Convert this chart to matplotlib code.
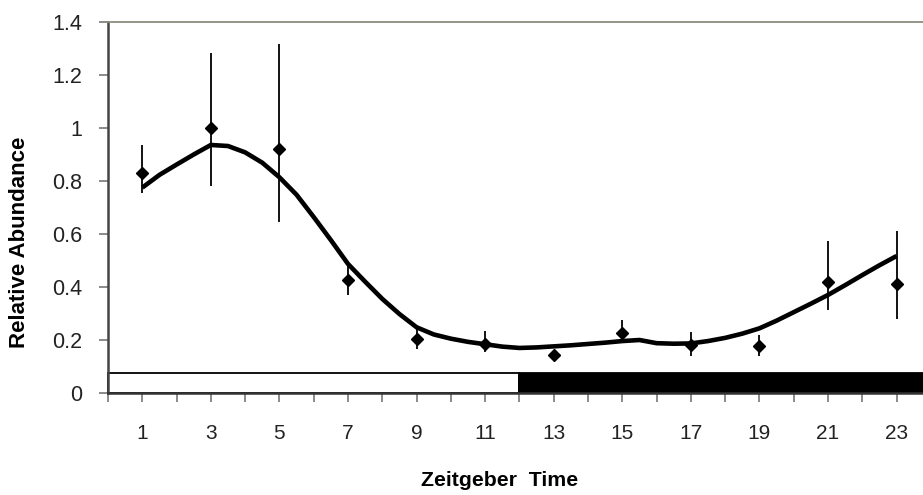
import numpy as np
import matplotlib
matplotlib.use("Agg")
import matplotlib.pyplot as plt
from matplotlib.patches import Rectangle

plt.rcParams['font.family'] = ['Liberation Sans', 'DejaVu Sans']

# measured points (Zeitgeber time, relative abundance, error bar below / above)
zt = [1, 3, 5, 7, 9, 11, 13, 15, 17, 19, 21, 23]
abundance = [0.83, 1.00, 0.922, 0.425, 0.205, 0.185, 0.145, 0.228, 0.18, 0.178, 0.418, 0.41]
err_low = [0.075, 0.218, 0.278, 0.056, 0.038, 0.031, 0.01, 0.04, 0.042, 0.04, 0.105, 0.131]
err_high = [0.107, 0.282, 0.394, 0.057, 0.041, 0.05, 0.01, 0.049, 0.049, 0.042, 0.157, 0.202]

trend_x = [1, 1.5, 2, 2.5, 3, 3.5, 4, 4.5, 5, 5.5, 6, 6.5, 7, 7.5, 8, 8.5, 9, 9.5,
           10, 10.5, 11, 11.5, 12, 12.5, 13, 13.5, 14, 14.5, 15, 15.5, 16, 16.5,
           17, 17.5, 18, 18.5, 19, 19.5, 20, 20.5, 21, 21.5, 22, 22.5, 23]
trend_y = [0.775, 0.823, 0.862, 0.9, 0.936, 0.932, 0.908, 0.869, 0.814, 0.748,
           0.664, 0.577, 0.487, 0.42, 0.355, 0.298, 0.248, 0.221, 0.205, 0.193,
           0.184, 0.175, 0.17, 0.172, 0.176, 0.18, 0.185, 0.19, 0.196, 0.2,
           0.188, 0.186, 0.187, 0.196, 0.208, 0.224, 0.244, 0.273, 0.305, 0.337,
           0.37, 0.407, 0.445, 0.482, 0.517]

# light / dark bar
light_span = (0, 12)
dark_span = (12, 24)
bar_height = 0.075

fig = plt.figure(figsize=(9.23, 4.95), dpi=100)
ax = fig.add_axes([108 / 923, 102 / 495, 1 - 108 / 923, 371 / 495])

ax.add_patch(Rectangle((light_span[0], 0), light_span[1] - light_span[0], bar_height,
                       facecolor='white', edgecolor='black', lw=1.3, zorder=2, clip_on=False))
ax.add_patch(Rectangle((dark_span[0], 0), dark_span[1] - dark_span[0], bar_height,
                       facecolor='black', edgecolor='black', lw=1.3, zorder=2))

ax.plot(trend_x, trend_y, color='black', lw=3.3, solid_joinstyle='round',
        solid_capstyle='butt', zorder=3)
ax.errorbar(zt, abundance, yerr=[err_low, err_high], fmt='D', color='black', ms=6.5,
            elinewidth=1.3, capsize=0, zorder=4)

ax.set_xticks(range(0, 25))
ax.set_xticklabels([str(i) if i % 2 == 1 else '' for i in range(0, 25)])
ax.set_yticks(np.arange(0, 1.41, 0.2))
ax.set_yticklabels(['0', '0.2', '0.4', '0.6', '0.8', '1', '1.2', '1.4'])
ax.set_xlim(0, 23.77)
ax.set_ylim(0, 1.4)

ax.tick_params(axis='x', direction='out', length=6.5, width=1.2, color='#777777',
               labelsize=15, pad=16, labelcolor='#222222')
ax.tick_params(axis='y', direction='out', length=6.5, width=1.2, color='#777777',
               labelsize=15.5, pad=12, labelcolor='#222222')

ax.spines['right'].set_visible(False)
ax.spines['top'].set_color('#8a8f80')
ax.spines['top'].set_linewidth(1.3)
ax.spines['left'].set_color('#444444')
ax.spines['left'].set_linewidth(1.8)
ax.spines['bottom'].set_color('#333333')
ax.spines['bottom'].set_linewidth(1.8)

fig.text(500 / 923, 1 - 481 / 495, 'Zeitgeber  Time', ha='center', va='center',
         fontsize=15.3, fontweight='bold')
fig.text(20 / 923, 1 - 242 / 495, 'Relative Abundance', ha='center', va='center',
         rotation=90, fontsize=16, fontweight='bold')

fig.savefig('out.png', dpi=100)
